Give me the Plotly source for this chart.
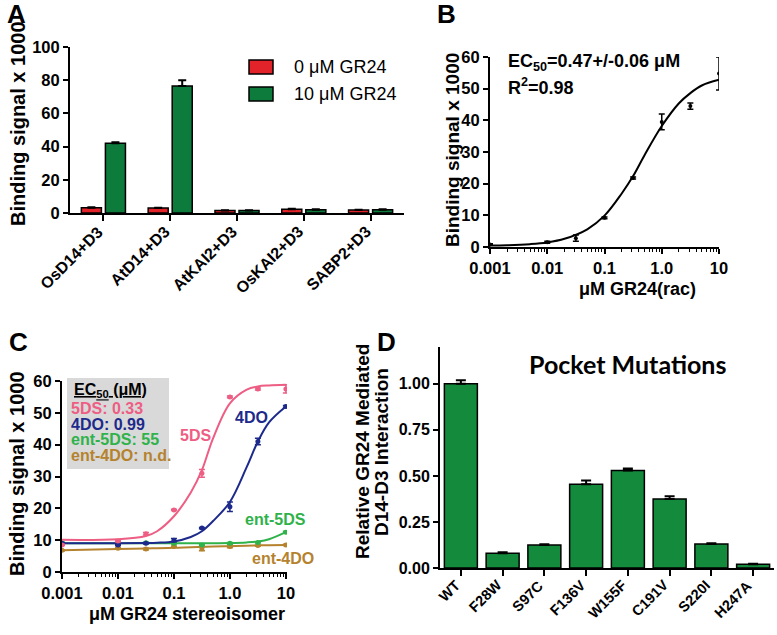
import plotly.graph_objects as go

W, H = 777, 635
FONT = "Liberation Sans"

# ---------------- data ----------------
# Panel A
a_categories = ["OsD14+D3", "AtD14+D3", "AtKAI2+D3", "OsKAI2+D3", "SABP2+D3"]
a_zero = [3.2, 3.0, 1.5, 2.3, 1.8]
a_zero_err = [0.2, 0.2, 0.1, 0.2, 0.1]
a_ten = [42.0, 76.5, 1.5, 2.0, 2.0]
a_ten_err = [0.6, 3.5, 0.1, 0.2, 0.2]
a_legend = ["0 \u03bcM GR24", "10 \u03bcM GR24"]

# Panel B
b_conc = [0.001, 0.01, 0.0316, 0.1, 0.316, 1.0, 3.16, 10.0]
b_signal = [0.8, 1.5, 2.8, 9.2, 21.8, 39.5, 44.5, 54.8]
b_err = [0.2, 0.3, 1.0, 0.3, 0.3, 2.5, 1.0, 5.2]
b_fit_x = [0.001, 0.002, 0.005, 0.01, 0.02, 0.05, 0.1, 0.2, 0.316, 0.5, 1.0, 2.0, 3.16, 5.0, 10.0]
b_fit_y = [0.45, 0.55, 0.9, 1.45, 2.6, 5.6, 9.9, 16.9, 22.4, 29.0, 38.2, 45.4, 48.6, 51.0, 52.8]

# Panel C
c_conc = [0.001, 0.01, 0.0316, 0.1, 0.316, 1.0, 3.16, 10.0]
c_5ds = [8.5, 9.7, 12.0, 19.5, 31.0, 55.0, 57.5, 57.5]
c_5ds_err = [0.2, 0.2, 0.4, 0.2, 1.2, 0.3, 0.3, 1.3]
c_4do = [9.0, 8.5, 9.0, 10.0, 13.8, 20.5, 41.0, 52.0]
c_4do_err = [0.2, 0.2, 0.2, 0.5, 0.2, 1.5, 1.0, 0.3]
c_e5ds = [9.2, 8.8, 9.2, 9.0, 8.5, 9.0, 9.3, 12.5]
c_e5ds_err = [0.2, 0.2, 0.2, 0.2, 0.2, 0.3, 0.2, 0.3]
c_e4do = [6.8, 7.5, 7.2, 8.0, 7.3, 8.0, 8.3, 8.5]
c_e4do_err = [0.2, 0.3, 0.3, 0.2, 0.6, 0.4, 0.2, 0.2]
c_fit_x = [0.001, 0.01, 0.0316, 0.05, 0.1, 0.2, 0.316, 0.5, 1.0, 2.0, 3.16, 5.0, 10.0]
c_fit_5ds = [10.1, 10.3, 11.3, 12.8, 17.5, 25.0, 32.0, 42.0, 53.0, 57.3, 58.3, 58.6, 58.8]
c_fit_4do = [9.0, 9.0, 9.1, 9.2, 9.6, 11.0, 12.8, 16.0, 22.0, 33.0, 41.0, 47.0, 52.0]
c_fit_e5ds = [9.0, 9.0, 9.0, 9.0, 9.0, 9.0, 9.0, 9.05, 9.1, 9.3, 9.6, 10.3, 12.5]
c_fit_e4do = [6.8, 7.2, 7.4, 7.5, 7.6, 7.8, 7.9, 8.0, 8.1, 8.25, 8.35, 8.4, 8.5]
c_names = ["5DS", "4DO", "ent-5DS", "ent-4DO"]
c_ec50 = ["0.33", "0.99", "55", "n.d."]

# Panel D
d_categories = ["WT", "F28W", "S97C", "F136V", "W155F", "C191V", "S220I", "H247A"]
d_values = [1.00, 0.08, 0.125, 0.455, 0.53, 0.375, 0.13, 0.02]
d_err = [0.02, 0.005, 0.004, 0.02, 0.01, 0.015, 0.004, 0.003]

# log-axis tick labels
log_vals = [0.001, 0.01, 0.1, 1, 10]
log_text = ["0.001", "0.01", "0.1", "1.0", "10"]
log_minor = [m * 10 ** e for e in (-3, -2, -1, 0) for m in range(2, 10)]

# colours
RED = "#e2232a"
GREEN_A = "#0d7b3c"
GREEN_D = "#148a3d"
PINK = "#ee5d83"
BLUE = "#1d2a8c"
LGREEN = "#2fb24a"
BROWN = "#b5822e"
C_COLORS = [PINK, BLUE, LGREEN, BROWN]


def px(x):
    return x / W


def py(y):
    return 1 - y / H


fig = go.Figure()

# ---------------- Panel A ----------------
fig.add_trace(go.Bar(
    x=a_categories, y=a_zero, width=0.3, offset=-0.33,
    marker=dict(color=RED, line=dict(color="black", width=1.5)),
    error_y=dict(type="data", array=a_zero_err, arrayminus=[0] * 5, symmetric=False,
                 color="black", thickness=2, width=4),
    xaxis="x", yaxis="y", showlegend=False))
fig.add_trace(go.Bar(
    x=a_categories, y=a_ten, width=0.3, offset=0.03,
    marker=dict(color=GREEN_A, line=dict(color="black", width=1.5)),
    error_y=dict(type="data", array=a_ten_err, arrayminus=[0] * 5, symmetric=False,
                 color="black", thickness=2, width=4),
    xaxis="x", yaxis="y", showlegend=False))

# ---------------- Panel B ----------------
fig.add_trace(go.Scatter(
    x=b_fit_x, y=b_fit_y, mode="lines", line=dict(color="black", width=2, shape="spline"),
    xaxis="x2", yaxis="y2", showlegend=False))
fig.add_trace(go.Scatter(
    x=b_conc, y=b_signal, mode="markers", marker=dict(color="black", size=4),
    error_y=dict(type="data", array=b_err, color="black", thickness=1.5, width=3),
    xaxis="x2", yaxis="y2", showlegend=False))

# ---------------- Panel C ----------------
c_data = [(c_5ds, c_5ds_err, c_fit_5ds), (c_4do, c_4do_err, c_fit_4do),
          (c_e5ds, c_e5ds_err, c_fit_e5ds), (c_e4do, c_e4do_err, c_fit_e4do)]
for (vals, errs, fit), col in zip(c_data[::-1], C_COLORS[::-1]):
    fig.add_trace(go.Scatter(
        x=c_fit_x, y=fit, mode="lines", line=dict(color=col, width=2, shape="spline"),
        xaxis="x3", yaxis="y3", showlegend=False))
    fig.add_trace(go.Scatter(
        x=c_conc, y=vals, mode="markers", marker=dict(color=col, size=5),
        error_y=dict(type="data", array=errs, color=col, thickness=1.5, width=3),
        xaxis="x3", yaxis="y3", showlegend=False))

# ---------------- Panel D ----------------
fig.add_trace(go.Bar(
    x=d_categories, y=d_values, width=0.79,
    marker=dict(color=GREEN_D, line=dict(color="black", width=1.5)),
    error_y=dict(type="data", array=d_err, arrayminus=[0] * 8, symmetric=False,
                 color="black", thickness=2, width=5),
    xaxis="x4", yaxis="y4", showlegend=False))

# ---------------- axes ----------------
axis_common = dict(showline=True, linecolor="black", linewidth=2, ticks="outside",
                   tickcolor="black", tickwidth=2, ticklen=5, showgrid=False,
                   zeroline=False, mirror=False, automargin=False)


def tf(size):
    return dict(family=FONT, size=size, color="black", weight="bold")


minor_log = dict(ticks="outside", ticklen=3, tickwidth=1, tickcolor="black",
                 tickmode="array", tickvals=log_minor, showgrid=False)

fig.update_layout(
    xaxis=dict(domain=[px(70), px(404)], anchor="y", range=[-0.5, 4.5],
               showticklabels=False, ticklen=6,
               **{k: v for k, v in axis_common.items() if k != "ticklen"}),
    yaxis=dict(domain=[py(213), py(47)], anchor="x", range=[0, 100],
               tickvals=[0, 20, 40, 60, 80, 100], tickfont=tf(16.5), **axis_common),
    xaxis2=dict(domain=[px(490), px(719)], anchor="y2", type="log", range=[-3, 1],
                tickvals=log_vals, ticktext=log_text, tickfont=tf(16.5),
                minor=minor_log, **axis_common),
    yaxis2=dict(domain=[py(247), py(57)], anchor="x2", range=[0, 60],
                tickvals=[0, 10, 20, 30, 40, 50, 60], tickfont=tf(16.5), **axis_common),
    xaxis3=dict(domain=[px(62), px(287)], anchor="y3", type="log", range=[-3, 1.02],
                tickvals=log_vals, ticktext=log_text, tickfont=tf(16.5),
                minor=minor_log, **axis_common),
    yaxis3=dict(domain=[py(572), py(381)], anchor="x3", range=[0, 60],
                tickvals=[0, 10, 20, 30, 40, 50, 60], tickfont=tf(16.5), **axis_common),
    xaxis4=dict(domain=[px(440), px(774)], anchor="y4", range=[-0.5, 7.5],
                showticklabels=False, ticklen=6,
                **{k: v for k, v in axis_common.items() if k != "ticklen"}),
    yaxis4=dict(domain=[py(568), py(347)], anchor="x4", range=[0, 1.2],
                tickvals=[0, 0.25, 0.5, 0.75, 1.0], ticktext=["0.00", "0.25", "0.50", "0.75", "1.00"],
                tickfont=tf(16), **axis_common),
)

# ---------------- annotations ----------------
ann = []


def text(x, y, t, size=16, color="black", bold=True, angle=0, family=FONT, xanchor="center"):
    ann.append(dict(x=px(x), y=py(y), xref="paper", yref="paper", text=t, showarrow=False,
                    xanchor=xanchor, yanchor="middle", textangle=angle,
                    font=dict(family=family, size=size, color=color,
                              weight="bold" if bold else "normal")))


# rotated category labels (placed on the categorical axes)
for cat in a_categories:
    ann.append(dict(x=cat, xref="x", y=py(220), yref="paper", text=cat, showarrow=False,
                    textangle=-45, xanchor="right", yanchor="top", xshift=6,
                    font=dict(family=FONT, size=16, color="black", weight="bold")))
for cat in d_categories:
    ann.append(dict(x=cat, xref="x4", y=py(574), yref="paper", text=cat, showarrow=False,
                    textangle=-45, xanchor="right", yanchor="top", xshift=5,
                    font=dict(family=FONT, size=14.5, color="black", weight="bold")))

# panel letters
text(16, 14, "A", size=26)
text(447, 14, "B", size=26)
text(18, 342, "C", size=26)
text(386, 342, "D", size=26)

# axis titles
text(18, 124, "Binding signal x 1000", size=20, angle=-90)
text(452, 150, "Binding signal x 1000", size=19, angle=-90)
text(637, 289, "\u03bcM GR24(rac)", size=18)
text(17, 474, "Binding signal x 1000", size=20, angle=-90)
text(187, 614, "\u03bcM GR24 stereoisomer", size=18)
text(362, 452, "Relative GR24 Mediated", size=19, angle=-90)
text(381, 452, "D14-D3 Interaction", size=19, angle=-90)

# panel A legend
legend_colors = [RED, GREEN_A]
shapes = []
for i, (lab, col) in enumerate(zip(a_legend, legend_colors)):
    yc = 67 + i * 27
    shapes.append(dict(type="rect", xref="paper", yref="paper",
                       x0=px(249), x1=px(273), y0=py(yc - 7), y1=py(yc + 7),
                       fillcolor=col, line=dict(color="black", width=1.5)))
    text(292, yc, lab, size=18, bold=False, xanchor="left")

# panel B fit text
text(506, 63, "EC<sub>50</sub>=0.47+/-0.06 \u03bcM", size=18, xanchor="left")
text(506, 86, "R<sup>2</sup>=0.98", size=18, xanchor="left")

# panel C box
shapes.append(dict(type="rect", xref="paper", yref="paper",
                   x0=px(67), x1=px(169), y0=py(469), y1=py(378),
                   fillcolor="#d9d9d9", line=dict(width=0), layer="below"))
text(72, 390, "<u>EC<sub>50</sub> (\u03bcM)</u>", size=16, xanchor="left")
for i, (nm, ec, col) in enumerate(zip(c_names, c_ec50, C_COLORS)):
    text(69, 408.5 + i * 15.6, f"{nm}: {ec}", size=16, color=col, xanchor="left")

# panel C curve labels
text(195, 435, "5DS", size=16, color=PINK)
text(251, 417, "4DO", size=16, color=BLUE)
text(275, 519, "ent-5DS", size=16, color=LGREEN)
text(283, 558, "ent-4DO", size=16, color=BROWN)

# panel D title
text(627, 364, "Pocket Mutations", size=25, family="Lato")

fig.update_layout(
    template="none",
    width=W, height=H, margin=dict(l=0, r=0, t=0, b=0, autoexpand=False),
    paper_bgcolor="white", plot_bgcolor="white",
    barmode="overlay", annotations=ann, shapes=shapes,
    font=dict(family=FONT, color="black"),
)

fig.write_html("out.html", config={"displayModeBar": False},
               post_script="document.body.style.margin='0';document.body.style.padding='0';")
